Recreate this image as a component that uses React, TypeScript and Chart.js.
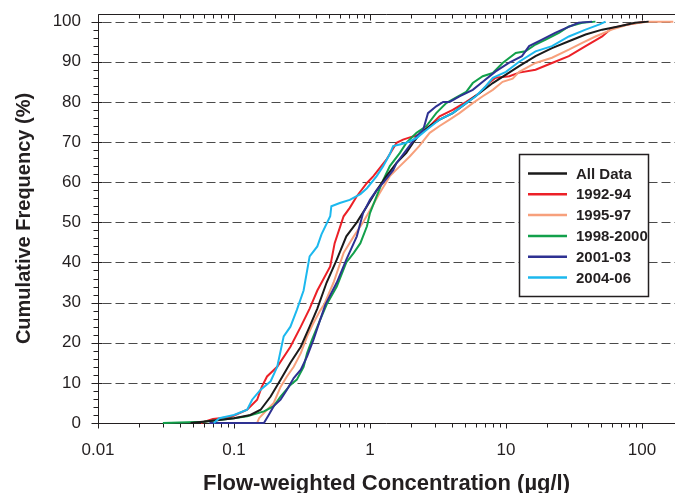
import React, { useEffect, useRef } from 'react';
import { Chart, registerables } from 'chart.js';

Chart.register(...registerables);

// ---- axis ticks ----
const xTickValues = [0.01, 0.1, 1, 10, 100];
const xTickLabels = ['0.01', '0.1', '1', '10', '100'];
const yTickValues = [0, 10, 20, 30, 40, 50, 60, 70, 80, 90, 100];
const yTickLabels = ['0', '10', '20', '30', '40', '50', '60', '70', '80', '90', '100'];

// ---- series (concentration µg/l, cumulative frequency %) ----
const allDataConc = [0.048, 0.075, 0.1, 0.132, 0.157, 0.186, 0.22, 0.26, 0.31, 0.36, 0.41, 0.48, 0.57, 0.67, 0.8, 0.95, 1.12, 1.32, 1.57, 1.85, 2.07, 2.3, 2.75, 3.25, 4.06, 5.1, 6.4, 8.0, 10, 12.5, 16.5, 21.8, 29, 38.5, 51, 67, 89, 112];
const allDataFreq = [0, 0.7, 1.2, 2, 3.3, 6.6, 10.8, 15, 19, 24, 28.5, 35, 40.7, 46.5, 50, 54, 58, 61.5, 64.8, 67.3, 69.8, 71.8, 74, 75.6, 77.2, 79.7, 82.2, 84.7, 86.8, 88.9, 91.4, 93.4, 95.1, 96.8, 98, 98.8, 99.7, 100];

const s9294Conc = [0.057, 0.07, 0.095, 0.125, 0.148, 0.16, 0.175, 0.208, 0.26, 0.31, 0.36, 0.41, 0.51, 0.55, 0.64, 0.71, 0.8, 0.95, 1.06, 1.32, 1.57, 1.75, 2.07, 2.3, 2.75, 3.25, 4.06, 5.1, 6.4, 7.5, 8.4, 10.6, 12.5, 16.5, 21.8, 29, 38.5, 51, 60, 79, 105];
const s9294Freq = [0, 1, 1.5, 3.3, 5.8, 9, 11.6, 14, 19, 24, 28.5, 33, 39, 44.8, 51.5, 53.6, 56.5, 59.8, 61.5, 65.6, 69.8, 70.6, 71.4, 71.8, 74, 76.4, 78, 80, 82.2, 84.7, 86, 86.4, 87.3, 88, 89.7, 91.4, 93.9, 96.3, 98.4, 99.3, 100];

const s9597Conc = [0.1, 0.148, 0.153, 0.166, 0.196, 0.22, 0.245, 0.275, 0.31, 0.345, 0.385, 0.43, 0.46, 0.54, 0.64, 0.76, 0.89, 1.0, 1.18, 1.4, 1.66, 1.96, 2.3, 2.75, 3.25, 3.85, 4.55, 5.7, 6.75, 8.0, 9.45, 11.2, 12.5, 16.5, 21.8, 29, 36.4, 45.5, 60, 79, 112, 170];
const s9597Freq = [0, 0, 1.2, 2.5, 5, 9, 11.6, 14, 17.4, 21.6, 25, 28, 29.5, 35, 42.4, 46.5, 50, 53, 57.3, 61.5, 64, 66.4, 69, 72.3, 74, 75.6, 77.2, 79.7, 81.4, 83, 85, 85.8, 87.5, 89.7, 91, 93, 94.7, 96.3, 98, 99.3, 100, 100];

const s9800Conc = [0.03, 0.06, 0.1, 0.125, 0.166, 0.196, 0.22, 0.26, 0.29, 0.325, 0.345, 0.375, 0.43, 0.48, 0.57, 0.67, 0.76, 0.85, 0.95, 1.0, 1.12, 1.25, 1.4, 1.66, 1.85, 2.2, 2.6, 3.07, 3.64, 4.06, 5.1, 5.7, 6.75, 8.0, 9.45, 11.8, 13.9, 16.5, 19.6, 24.5, 29, 36.4, 45.5];
const s9800Freq = [0, 0.3, 1.2, 1.7, 2.9, 4.2, 6.6, 9.5, 10.8, 14, 17.4, 20.8, 25.7, 29.5, 34, 40, 42.4, 44.8, 49, 52.3, 56.5, 60.5, 64, 67.3, 69.8, 72.3, 74, 77.2, 79.7, 80.6, 82.5, 84.7, 86.4, 87.2, 89.7, 92.2, 92.6, 94.3, 95.5, 97.2, 98.8, 99.7, 100];

const s0103Conc = [0.066, 0.166, 0.18, 0.196, 0.22, 0.245, 0.275, 0.31, 0.345, 0.385, 0.43, 0.47, 0.57, 0.67, 0.8, 0.89, 1.0, 1.12, 1.25, 1.48, 1.57, 1.85, 2.2, 2.46, 2.67, 3.07, 3.45, 3.85, 4.55, 5.7, 6.75, 8.4, 10.5, 13.1, 14.8, 18.4, 23, 27.5, 34.2, 43];
const s0103Freq = [0, 0, 2, 4.2, 5.8, 8.3, 11.2, 13.3, 16.6, 20.8, 25.7, 29.5, 35, 40.7, 46.5, 52.3, 55.6, 58, 59.8, 63, 64.8, 68, 71.4, 73, 77.2, 78.9, 80, 80, 81.4, 83, 85, 87.6, 89.7, 91.4, 93.9, 95.5, 97.2, 98.4, 99.7, 100];

const s0406Conc = [0.071, 0.078, 0.1, 0.125, 0.136, 0.157, 0.186, 0.208, 0.232, 0.26, 0.29, 0.325, 0.36, 0.41, 0.44, 0.51, 0.52, 0.6, 0.71, 0.85, 0.95, 1.12, 1.25, 1.4, 1.48, 1.66, 1.85, 2.2, 2.6, 3.25, 4.06, 5.1, 6.0, 7.1, 8.0, 10, 12.5, 16.5, 21.8, 29, 38.5, 48.8, 54];
const s0406Freq = [0, 1.2, 2, 3.3, 5.8, 8.3, 10.4, 14, 21.6, 24, 28.2, 33, 41.5, 44, 47, 51.5, 54, 54.8, 55.6, 57, 58.5, 61.5, 64, 67, 69, 69.4, 69.8, 71, 73, 75.6, 77.2, 79.7, 81.4, 83.9, 86, 87.5, 90, 92.6, 93.9, 96.3, 98, 99.3, 100];

const seriesNames = ['All Data', '1992-94', '1995-97', '1998-2000', '2001-03', '2004-06'];
const seriesColors = ['#1a1a1a', '#ec2027', '#f7a07c', '#12a04b', '#2e3192', '#1cb8ee'];
const seriesConc = [allDataConc, s9294Conc, s9597Conc, s9800Conc, s0103Conc, s0406Conc];
const seriesFreq = [allDataFreq, s9294Freq, s9597Freq, s9800Freq, s0103Freq, s0406Freq];

const FONT = "'Liberation Sans', Arial, Helvetica, sans-serif";
const INK = '#231f20';

const frameAndGridPlugin = {
  id: 'frameAndGrid',
  beforeDatasetsDraw(chart: any) {
    const { ctx, chartArea: a, scales } = chart;
    const x = scales.x;
    const y = scales.y;
    const L = Math.round(a.left) + 0.5;
    const B = Math.round(a.bottom) + 0.5;
    const T = Math.round(a.top) + 0.5;
    ctx.save();
    // dashed gridlines
    ctx.strokeStyle = '#4a4a4a';
    ctx.lineWidth = 1;
    ctx.setLineDash([9, 4]);
    ctx.beginPath();
    yTickValues.forEach((v) => {
      if (v === 0) return;
      const py = Math.round(y.getPixelForValue(v)) + 0.5;
      ctx.moveTo(L + 4, py);
      ctx.lineTo(a.right, py);
    });
    ctx.stroke();
    ctx.setLineDash([]);
    // frame
    ctx.strokeStyle = INK;
    ctx.beginPath();
    ctx.moveTo(L, T);
    ctx.lineTo(L, B);
    ctx.lineTo(a.right, B);
    ctx.moveTo(L, T);
    ctx.lineTo(a.right, T);
    // y ticks: majors every 10, minors every 2
    for (let v = 0; v <= 100; v += 2) {
      const py = Math.round(y.getPixelForValue(v)) + 0.5;
      const major = v % 10 === 0;
      ctx.moveTo(L - (major ? 7 : 5), py);
      ctx.lineTo(L + (major ? 4 : 0), py);
    }
    // x ticks (log decades)
    for (let d = -2; d <= 2; d++) {
      for (let m = 1; m <= 9; m++) {
        const v = m * Math.pow(10, d);
        if (v > x.max) break;
        const px = Math.round(x.getPixelForValue(v)) + 0.5;
        const major = m === 1;
        ctx.moveTo(px, B);
        ctx.lineTo(px, B + (major ? 5 : 4));
        ctx.moveTo(px, T);
        ctx.lineTo(px, T + (major ? 6 : 4));
      }
    }
    ctx.stroke();
    ctx.restore();
  },
  afterDraw(chart: any) {
    const { ctx, chartArea: a } = chart;
    ctx.save();
    // axis titles
    ctx.fillStyle = INK;
    ctx.textAlign = 'center';
    ctx.textBaseline = 'alphabetic';
    ctx.font = `bold 22px ${FONT}`;
    ctx.fillText('Flow-weighted Concentration (µg/l)', (a.left + a.right) / 2, 490);
    ctx.font = `bold 20px ${FONT}`;
    ctx.translate(30, (a.top + a.bottom) / 2);
    ctx.rotate(-Math.PI / 2);
    ctx.fillText('Cumulative Frequency (%)', 0, 0);
    ctx.restore();

    // legend
    ctx.save();
    const bx = 519.5, by = 154.5, bw = 129, bh = 142;
    ctx.fillStyle = '#ffffff';
    ctx.fillRect(bx, by, bw, bh);
    ctx.strokeStyle = INK;
    ctx.lineWidth = 1.5;
    ctx.strokeRect(bx, by, bw, bh);
    ctx.font = `bold 15px ${FONT}`;
    ctx.textAlign = 'left';
    ctx.textBaseline = 'middle';
    seriesNames.forEach((name, i) => {
      const ry = 173.5 + i * 20.8;
      ctx.strokeStyle = seriesColors[i];
      ctx.lineWidth = 2.5;
      ctx.beginPath();
      ctx.moveTo(528, ry);
      ctx.lineTo(567, ry);
      ctx.stroke();
      ctx.fillStyle = INK;
      ctx.fillText(name, 576, ry + 1);
    });
    ctx.restore();
  },
};

export default function App() {
  const canvasRef = useRef<HTMLCanvasElement | null>(null);

  useEffect(() => {
    document.body.style.margin = '0';
    const canvas = canvasRef.current;
    if (!canvas) return;
    const datasets = seriesNames.map((name, i) => ({
      label: name,
      data: seriesConc[i].map((c, j) => ({ x: c, y: seriesFreq[i][j] })),
      borderColor: seriesColors[i],
      backgroundColor: seriesColors[i],
      borderWidth: 2,
      pointRadius: 0,
      tension: 0,
      fill: false,
      clip: false as any,
      order: i === 0 ? 3 : 6 - i,
    }));
    const chart = new Chart(canvas, {
      type: 'line',
      data: { datasets },
      options: {
        animation: false,
        responsive: false,
        devicePixelRatio: 1,
        layout: { padding: { top: 14, right: 0, left: 0, bottom: 0 } },
        plugins: { legend: { display: false }, tooltip: { enabled: false } },
        scales: {
          x: {
            type: 'logarithmic',
            min: 0.01,
            max: 175,
            grid: { display: false },
            border: { display: false },
            afterFit: (s: any) => { s.height = 70; s.paddingLeft = 0; s.paddingRight = 0; },
            afterBuildTicks: (s: any) => { s.ticks = xTickValues.map((v) => ({ value: v })); },
            ticks: {
              autoSkip: false,
              maxRotation: 0,
              minRotation: 0,
              padding: 9,
              color: INK,
              font: { family: FONT, size: 17 },
              callback: (_v: any, i: number) => xTickLabels[i],
            },
          },
          y: {
            type: 'linear',
            min: 0,
            max: 101.9,
            grid: { display: false },
            border: { display: false },
            afterFit: (s: any) => { s.width = 98; s.paddingTop = 0; s.paddingBottom = 0; },
            afterBuildTicks: (s: any) => { s.ticks = yTickValues.map((v) => ({ value: v })); },
            ticks: {
              padding: 9,
              color: INK,
              font: { family: FONT, size: 17 },
              callback: (_v: any, i: number) => yTickLabels[i],
            },
          },
        },
      },
      plugins: [frameAndGridPlugin],
    });
    return () => chart.destroy();
  }, []);

  return (
    <div style={{ position: 'absolute', left: 0, top: 0, width: 675, height: 493, background: '#fff' }}>
      <canvas ref={canvasRef} width={675} height={493} style={{ display: 'block', width: 675, height: 493 }} />
    </div>
  );
}
